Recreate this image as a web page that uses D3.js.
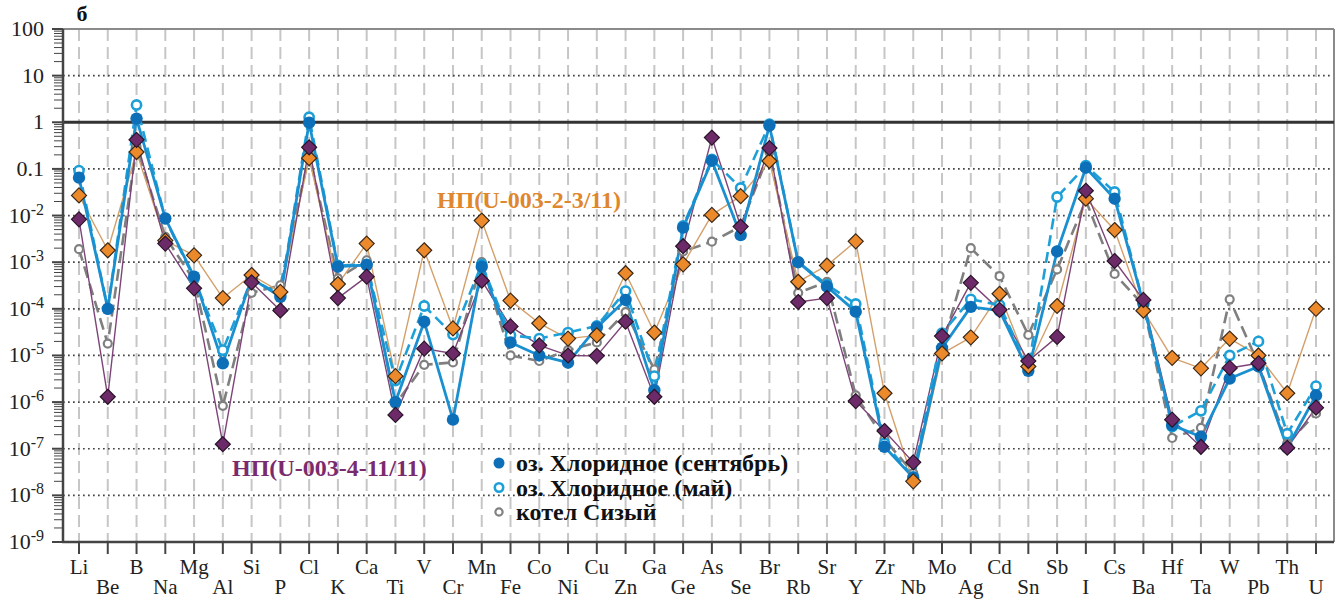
<!DOCTYPE html>
<html>
<head>
<meta charset="utf-8">
<script src="https://cdn.jsdelivr.net/npm/d3@7"></script>
<style>
  body { margin: 0; background: #fff; }
  svg { display: block; }
  text, tspan { font-family: "Liberation Serif", "Times New Roman", "DejaVu Serif", serif; }
</style>
</head>
<body>
<div id="chart"></div>
<script>
// elements along the x axis
const elements = ["Li","Be","B","Na","Mg","Al","Si","P","Cl","K","Ca","Ti","V","Cr","Mn","Fe","Co","Ni","Cu","Zn",
  "Ga","Ge","As","Se","Br","Rb","Sr","Y","Zr","Nb","Mo","Ag","Cd","Sn","Sb","I","Cs","Ba","Hf","Ta","W","Pb","Th","U"];

// oz. Khloridnoe (september)
const sepVals = [0.065,1e-4,1.2,8.7e-3,4.9e-4,6.8e-6,4.5e-4,1.8e-4,0.98,8e-4,8.7e-4,1e-6,5.3e-5,4.2e-7,8e-4,1.9e-5,1e-5,7e-6,4e-5,1.55e-4,
  1.8e-6,5.5e-3,0.15,3.8e-3,0.85,1e-3,3e-4,8.7e-5,1.1e-7,2.4e-8,1.45e-5,1.1e-4,9.1e-5,4.7e-6,1.7e-3,0.106,0.023,1.3e-4,3.2e-7,1.8e-7,3.2e-6,5.8e-6,1.05e-7,1.4e-6];
// oz. Khloridnoe (may)
const mayVals = [0.092,1e-4,2.35,8.5e-3,4.5e-4,1.3e-5,4.3e-4,2e-4,1.28,8.5e-4,9e-4,2.9e-6,1.15e-4,2.8e-5,9e-4,2.7e-5,2.3e-5,3.1e-5,4.3e-5,2.4e-4,
  3.6e-6,6e-3,0.16,0.039,0.91,1e-3,3.3e-4,1.27e-4,1.3e-7,2.5e-8,3e-5,1.6e-4,1.2e-4,5.5e-6,0.025,0.117,0.032,1.3e-4,3e-7,6.5e-7,1e-5,2e-5,2.1e-7,2.2e-6];
// kotel Sizy
const sizyVals = [1.9e-3,1.8e-5,0.3,3.5e-3,4.1e-4,8.3e-7,2.2e-4,3.2e-4,0.2,4.5e-4,1.1e-3,9e-7,6.3e-6,7.1e-6,1e-3,1e-5,7.6e-6,1.3e-5,1.9e-5,8.5e-5,
  5e-6,1.7e-3,2.75e-3,5.8e-3,0.23,2.2e-4,3.8e-4,1.4e-6,1.6e-7,3e-8,1.5e-5,2e-3,5e-4,2.75e-5,7e-4,0.021,5.6e-4,1.2e-4,1.7e-7,2.8e-7,1.6e-4,6.5e-6,1.3e-7,5.7e-7];
// NP(U-003-2-3/11)
const np23Vals = [0.027,1.8e-3,0.23,2.9e-3,1.4e-3,1.7e-4,5.3e-4,2.3e-4,0.17,3.4e-4,2.5e-3,3.6e-6,1.8e-3,3.8e-5,7.8e-3,1.5e-4,4.9e-5,2.3e-5,2.7e-5,5.8e-4,
  3.1e-5,9e-4,0.0103,0.026,0.148,3.8e-4,8.5e-4,2.8e-3,1.55e-6,2e-8,1.1e-5,2.45e-5,2.1e-4,5.8e-6,1.15e-4,0.023,4.9e-3,9.1e-5,8.9e-6,5.3e-6,2.3e-5,1e-5,1.55e-6,1e-4];
// NP(U-003-4-11/11)
const np411Vals = [8.3e-3,1.3e-6,0.42,2.5e-3,2.75e-4,1.25e-7,3.7e-4,9.2e-5,0.29,1.7e-4,4.9e-4,5.3e-7,1.4e-5,1.1e-5,4e-4,4.2e-5,1.65e-5,1e-5,9.8e-6,5.3e-5,
  1.3e-6,2.2e-3,0.47,5.8e-3,0.28,1.4e-4,1.7e-4,1.05e-6,2.4e-7,5.1e-8,2.6e-5,3.6e-4,9.5e-5,7.6e-6,2.5e-5,0.034,1.06e-3,1.55e-4,4.2e-7,1.1e-7,5.4e-6,6.8e-6,1.05e-7,7.6e-7];

const yTicks = [1e-9,1e-8,1e-7,1e-6,1e-5,1e-4,1e-3,1e-2,0.1,1,10,100];
const legendNames = ["оз. Хлоридное (сентябрь)", "оз. Хлоридное (май)", "котел Сизый"];

const W = 1344, H = 600;
const pL = 63, pR = 1334, pT = 29, pB = 542;
const serif = "Liberation Serif";

const svg = d3.select("#chart").append("svg").attr("width", W).attr("height", H);

const x = d3.scalePoint().domain(elements).range([79, 1316]);
const y = d3.scaleLog().domain([1e-9, 100]).range([pB, pT]);

// vertical dashed grid
svg.append("g").selectAll("line").data(elements).join("line")
  .attr("x1", d => x(d)).attr("x2", d => x(d))
  .attr("y1", pT).attr("y2", pB)
  .attr("stroke", "#c6c6c6").attr("stroke-width", 2)
  .attr("stroke-dasharray", "12,6");

// horizontal dotted grid
svg.append("g").selectAll("line").data(yTicks.filter(v => v > 1e-9 && v < 100 && v !== 1)).join("line")
  .attr("x1", pL).attr("x2", pR)
  .attr("y1", d => y(d)).attr("y2", d => y(d))
  .attr("stroke", "#444").attr("stroke-width", 1.7)
  .attr("stroke-dasharray", "1.7,3.3");

// frame top/right
svg.append("line").attr("x1", pL).attr("x2", pR).attr("y1", pT).attr("y2", pT)
  .attr("stroke", "#8a8a8a").attr("stroke-width", 2);
svg.append("line").attr("x1", pR).attr("x2", pR).attr("y1", pT).attr("y2", pB)
  .attr("stroke", "#8a8a8a").attr("stroke-width", 2);

// reference line at 1
svg.append("line").attr("x1", pL).attr("x2", pR).attr("y1", y(1)).attr("y2", y(1))
  .attr("stroke", "#333").attr("stroke-width", 3);

// y axis with minor log ticks
const minor = [];
yTicks.slice(0, -1).forEach(t => { for (let k = 2; k <= 9; k++) minor.push(t * k); });
const yAxisG = svg.append("g").attr("transform", `translate(${pL},0)`);
yAxisG.selectAll("line.minor").data(minor).join("line")
  .attr("x1", -9).attr("x2", 0).attr("y1", d => y(d)).attr("y2", d => y(d))
  .attr("stroke", "#444").attr("stroke-width", 1);
yAxisG.selectAll("line.major").data(yTicks).join("line")
  .attr("x1", -11).attr("x2", 0).attr("y1", d => y(d)).attr("y2", d => y(d))
  .attr("stroke", "#444").attr("stroke-width", 2);
yAxisG.append("line").attr("x1", 0).attr("x2", 0).attr("y1", pT).attr("y2", pB + 1)
  .attr("stroke", "#444").attr("stroke-width", 2.5);

const yLab = yAxisG.selectAll("text").data(yTicks).join("text")
  .attr("x", -19).attr("y", d => y(d) + 7)
  .attr("font-family", serif)
  .attr("text-anchor", "end").attr("font-size", 22).attr("fill", "#222");
yLab.each(function(d) {
  const t = d3.select(this);
  if (d >= 0.1) {
    t.text(d === 0.1 ? "0.1" : String(d));
  } else {
    t.append("tspan").text("10");
    t.append("tspan").attr("dy", -8).attr("font-size", 16).text("-" + Math.round(-Math.log10(d)));
  }
});

// x axis
svg.append("line").attr("x1", pL - 1).attr("x2", pR).attr("y1", pB).attr("y2", pB)
  .attr("stroke", "#444").attr("stroke-width", 2.5);
svg.append("g").selectAll("line").data(elements).join("line")
  .attr("x1", d => x(d)).attr("x2", d => x(d))
  .attr("y1", pB).attr("y2", pB + 12)
  .attr("stroke", "#444").attr("stroke-width", 2);
svg.append("g").selectAll("text").data(elements).join("text")
  .attr("x", d => x(d)).attr("y", (d, i) => i % 2 === 0 ? 574 : 594)
  .attr("font-family", serif)
  .attr("text-anchor", "middle").attr("font-size", 21).attr("fill", "#222")
  .text(d => d);

// series
const series = [
  { vals: sizyVals, line: "#7f7f7f", w: 2.6, dash: "12,6", marker: "ring", r: 4, mfill: "#fff", mstroke: "#808080", ms: 2.2 },
  { vals: np23Vals, line: "#d4a06a", w: 1.4, dash: null, marker: "diamond", size: 7.5, mfill: "#ec8a2b", mstroke: "#3a2818", ms: 1.2 },
  { vals: np411Vals, line: "#7d4478", w: 1.4, dash: null, marker: "diamond", size: 7.5, mfill: "#6d2a69", mstroke: "#2a1428", ms: 1.2 },
  { vals: mayVals, line: "#1d9fd8", w: 2.6, dash: "11,6", marker: "ring", r: 4.6, mfill: "#fff", mstroke: "#1d9fd8", ms: 2.6 },
  { vals: sepVals, line: "#1b90d0", w: 2.8, dash: null, marker: "dot", r: 6.2, mfill: "#0d6fb8", mstroke: "#0d6fb8", ms: 0 }
];

const lineGen = d3.line().x((d, i) => x(elements[i])).y(d => y(d));

series.forEach(s => {
  svg.append("path").datum(s.vals)
    .attr("d", lineGen).attr("fill", "none")
    .attr("stroke", s.line).attr("stroke-width", s.w)
    .attr("stroke-dasharray", s.dash).attr("stroke-linejoin", "round");
});

function drawMarkers(g, s, pts) {
  if (s.marker === "diamond") {
    g.selectAll("path").data(pts).join("path")
      .attr("d", d => `M${d[0]},${d[1] - s.size}L${d[0] + s.size},${d[1]}L${d[0]},${d[1] + s.size}L${d[0] - s.size},${d[1]}Z`)
      .attr("fill", s.mfill).attr("stroke", s.mstroke).attr("stroke-width", s.ms);
  } else {
    g.selectAll("circle").data(pts).join("circle")
      .attr("cx", d => d[0]).attr("cy", d => d[1]).attr("r", s.r)
      .attr("fill", s.mfill).attr("stroke", s.mstroke).attr("stroke-width", s.ms);
  }
}

[series[0], series[3], series[4], series[1], series[2]].forEach(s => {
  const pts = s.vals.map((v, i) => [x(elements[i]), y(v)]);
  drawMarkers(svg.append("g"), s, pts);
});

// labels
svg.append("text").attr("x", 82).attr("y", 21).attr("text-anchor", "middle").attr("font-family", serif)
  .attr("font-size", 22).attr("font-weight", "bold").attr("fill", "#111").text("б");
svg.append("text").attr("x", 437).attr("y", 208).attr("font-size", 24).attr("font-weight", "bold")
  .attr("font-family", serif).attr("fill", "#e0862c").text("НП(U-003-2-3/11)");
svg.append("text").attr("x", 232).attr("y", 476).attr("font-size", 24).attr("font-weight", "bold")
  .attr("font-family", serif).attr("fill", "#7a2b6e").text("НП(U-003-4-11/11)");

// legend
const legend = svg.append("g");
const legSeries = [series[4], series[3], series[0]];
legSeries.forEach((s, i) => {
  const cy = 463 + i * 24.5;
  const ls = Object.assign({}, s, { r: i === 0 ? 5.5 : (i === 1 ? 4.2 : 3.6) });
  drawMarkers(legend.append("g"), ls, [[499, cy]]);
  legend.append("text").attr("x", 516).attr("y", cy + 8).attr("font-family", serif)
    .attr("font-size", 24).attr("font-weight", "bold").attr("fill", "#111")
    .text(legendNames[i]);
});
</script>
</body>
</html>
